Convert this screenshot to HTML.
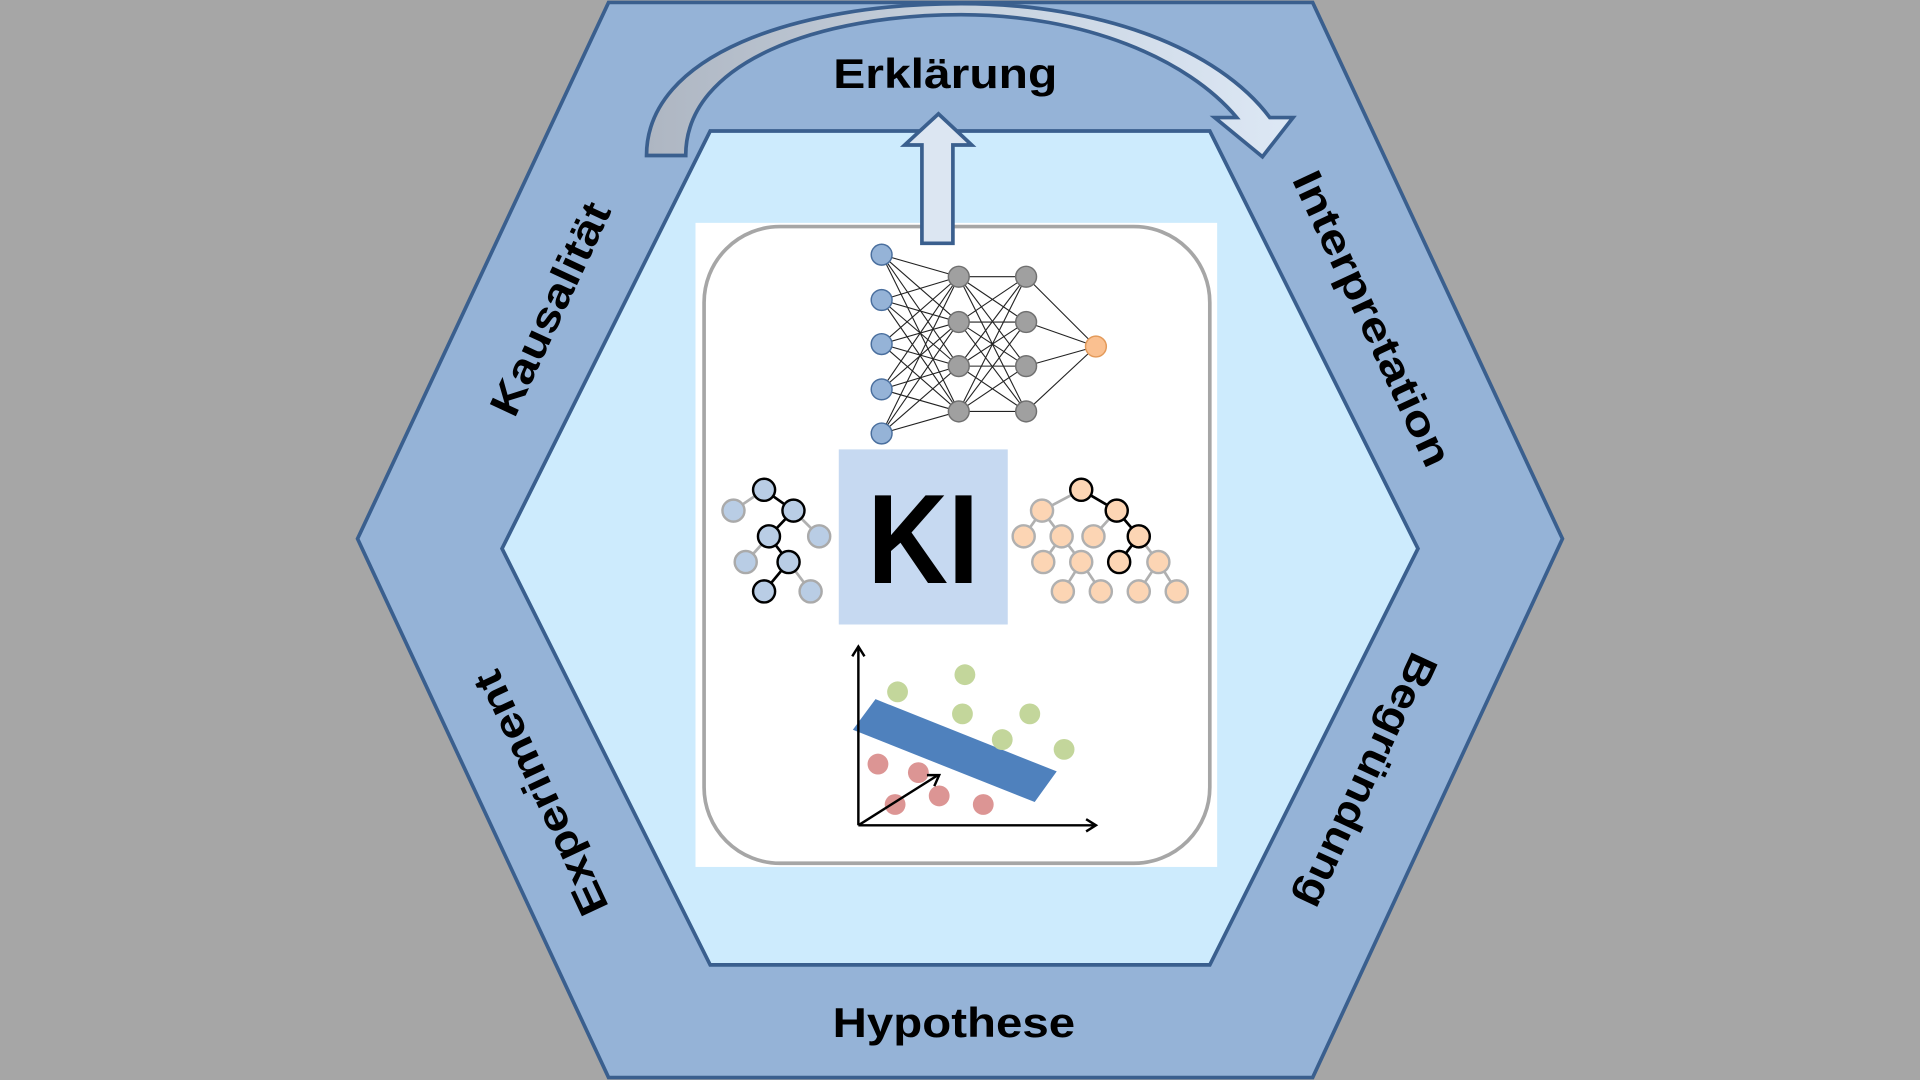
<!DOCTYPE html>
<html><head><meta charset="utf-8"><style>
html,body{margin:0;padding:0;background:#a6a6a6;}
svg{display:block;}
text{font-family:"Liberation Sans",Arial,sans-serif;font-weight:bold;fill:#000;}
</style></head><body>
<svg width="1920" height="1080" viewBox="0 0 1568 882" xmlns="http://www.w3.org/2000/svg">
<defs>
<linearGradient id="ag" x1="0" y1="0" x2="1" y2="0">
<stop offset="0" stop-color="#aeb6c2"/><stop offset="0.45" stop-color="#c4cfdc"/><stop offset="1" stop-color="#dde8f5"/>
</linearGradient>
</defs>
<rect width="1568" height="882" fill="#a6a6a6"/>
<polygon points="497,2 1072,2 1276,440 1072,880 497,880 292,440" fill="#95b3d7" stroke="#3a5f8e" stroke-width="3"/>
<polygon points="580,107 988,107 1158,448 988,788 580,788 410,448" fill="#cdebfd" stroke="#3a5f8e" stroke-width="3"/>
<!-- curved arrow -->
<path d="M528,127 C528,45 650,3 785,3 C900,3 995,40 1037,96 L1056,96 L1031,128 L992,96 L1010,96 C970,48 885,12 785,12 C670,12 560,50 560,127 Z" fill="url(#ag)" stroke="#3a5f8e" stroke-width="3" stroke-linejoin="miter"/>
<text x="772" y="72" font-size="34" text-anchor="middle" textLength="183" lengthAdjust="spacingAndGlyphs">Erklärung</text>
<text x="779" y="847" font-size="34" text-anchor="middle" textLength="198" lengthAdjust="spacingAndGlyphs">Hypothese</text>
<text transform="translate(449,252) rotate(-65)" x="0" y="12" font-size="34" text-anchor="middle" textLength="188" lengthAdjust="spacingAndGlyphs">Kausalität</text>
<text transform="translate(1121,260) rotate(65)" x="0" y="12" font-size="34" text-anchor="middle" textLength="262" lengthAdjust="spacingAndGlyphs">Interpretation</text>
<text transform="translate(441,648) rotate(-115)" x="0" y="12" font-size="34" text-anchor="middle" textLength="216" lengthAdjust="spacingAndGlyphs">Experiment</text>
<text transform="translate(1117,638) rotate(115)" x="0" y="12" font-size="34" text-anchor="middle" textLength="226" lengthAdjust="spacingAndGlyphs">Begründung</text>
<!-- white panel -->
<rect x="568" y="182" width="426" height="526" fill="#fff"/>
<rect x="575" y="185" width="413" height="520" rx="62" ry="62" fill="#fff" stroke="#a6a6a6" stroke-width="3"/>
<!-- up arrow -->
<polygon points="766.4,93 793.6,118.4 778.2,118.4 778.2,198.7 752.9,198.7 752.9,118.4 738.8,118.4" fill="#dce6f2" stroke="#3a5f8e" stroke-width="3"/>
<!-- neural net -->
<g stroke="#222" stroke-width="0.9">
<g id="e1">
<line x1="720" y1="208" x2="783" y2="226"/><line x1="720" y1="208" x2="783" y2="263"/><line x1="720" y1="208" x2="783" y2="299"/><line x1="720" y1="208" x2="783" y2="336"/>
<line x1="720" y1="245" x2="783" y2="226"/><line x1="720" y1="245" x2="783" y2="263"/><line x1="720" y1="245" x2="783" y2="299"/><line x1="720" y1="245" x2="783" y2="336"/>
<line x1="720" y1="281" x2="783" y2="226"/><line x1="720" y1="281" x2="783" y2="263"/><line x1="720" y1="281" x2="783" y2="299"/><line x1="720" y1="281" x2="783" y2="336"/>
<line x1="720" y1="318" x2="783" y2="226"/><line x1="720" y1="318" x2="783" y2="263"/><line x1="720" y1="318" x2="783" y2="299"/><line x1="720" y1="318" x2="783" y2="336"/>
<line x1="720" y1="354" x2="783" y2="226"/><line x1="720" y1="354" x2="783" y2="263"/><line x1="720" y1="354" x2="783" y2="299"/><line x1="720" y1="354" x2="783" y2="336"/>
</g>
<line x1="783" y1="226" x2="838" y2="226"/><line x1="783" y1="226" x2="838" y2="263"/><line x1="783" y1="226" x2="838" y2="299"/><line x1="783" y1="226" x2="838" y2="336"/>
<line x1="783" y1="263" x2="838" y2="226"/><line x1="783" y1="263" x2="838" y2="263"/><line x1="783" y1="263" x2="838" y2="299"/><line x1="783" y1="263" x2="838" y2="336"/>
<line x1="783" y1="299" x2="838" y2="226"/><line x1="783" y1="299" x2="838" y2="263"/><line x1="783" y1="299" x2="838" y2="299"/><line x1="783" y1="299" x2="838" y2="336"/>
<line x1="783" y1="336" x2="838" y2="226"/><line x1="783" y1="336" x2="838" y2="263"/><line x1="783" y1="336" x2="838" y2="299"/><line x1="783" y1="336" x2="838" y2="336"/>
<line x1="838" y1="226" x2="895" y2="283"/><line x1="838" y1="263" x2="895" y2="283"/><line x1="838" y1="299" x2="895" y2="283"/><line x1="838" y1="336" x2="895" y2="283"/>
</g>
<g fill="#95b3d7" stroke="#4a6f9e" stroke-width="1.2">
<circle cx="720" cy="208" r="8.5"/><circle cx="720" cy="245" r="8.5"/><circle cx="720" cy="281" r="8.5"/><circle cx="720" cy="318" r="8.5"/><circle cx="720" cy="354" r="8.5"/>
</g>
<g fill="#a0a0a0" stroke="#707070" stroke-width="1.2">
<circle cx="783" cy="226" r="8.5"/><circle cx="783" cy="263" r="8.5"/><circle cx="783" cy="299" r="8.5"/><circle cx="783" cy="336" r="8.5"/>
<circle cx="838" cy="226" r="8.5"/><circle cx="838" cy="263" r="8.5"/><circle cx="838" cy="299" r="8.5"/><circle cx="838" cy="336" r="8.5"/>
</g>
<circle cx="895" cy="283" r="8.5" fill="#fac090" stroke="#e39a5a" stroke-width="1.2"/>
<!-- KI -->
<rect x="685" y="367" width="138" height="143" fill="#c6d9f1"/>
<text x="754" y="476" font-size="104" text-anchor="middle" textLength="91" lengthAdjust="spacingAndGlyphs">KI</text>
<!-- left tree -->
<g stroke-width="2.2">
<line x1="624" y1="400" x2="599" y2="417" stroke="#b0b0b0"/>
<line x1="648" y1="417" x2="669" y2="438" stroke="#b0b0b0"/>
<line x1="628" y1="438" x2="609" y2="459" stroke="#b0b0b0"/>
<line x1="644" y1="459" x2="662" y2="483" stroke="#b0b0b0"/>
<line x1="624" y1="400" x2="648" y2="417" stroke="#000"/>
<line x1="648" y1="417" x2="628" y2="438" stroke="#000"/>
<line x1="628" y1="438" x2="644" y2="459" stroke="#000"/>
<line x1="644" y1="459" x2="624" y2="483" stroke="#000"/>
</g>
<g fill="#b9cde5" stroke="#aaa" stroke-width="2">
<circle cx="599" cy="417" r="9"/><circle cx="669" cy="438" r="9"/><circle cx="609" cy="459" r="9"/><circle cx="662" cy="483" r="9"/>
</g>
<g fill="#b9cde5" stroke="#000" stroke-width="2">
<circle cx="624" cy="400" r="9"/><circle cx="648" cy="417" r="9"/><circle cx="628" cy="438" r="9"/><circle cx="644" cy="459" r="9"/><circle cx="624" cy="483" r="9"/>
</g>
<!-- right tree -->
<g stroke-width="2.2" stroke="#b0b0b0">
<line x1="883" y1="400" x2="851" y2="417"/>
<line x1="851" y1="417" x2="836" y2="438"/><line x1="851" y1="417" x2="867" y2="438"/>
<line x1="912" y1="417" x2="893" y2="438"/>
<line x1="867" y1="438" x2="852" y2="459"/><line x1="867" y1="438" x2="883" y2="459"/>
<line x1="930" y1="438" x2="946" y2="459"/>
<line x1="883" y1="459" x2="868" y2="483"/><line x1="883" y1="459" x2="899" y2="483"/>
<line x1="946" y1="459" x2="930" y2="483"/><line x1="946" y1="459" x2="961" y2="483"/>
</g>
<g stroke-width="2.2" stroke="#000">
<line x1="883" y1="400" x2="912" y2="417"/><line x1="912" y1="417" x2="930" y2="438"/><line x1="930" y1="438" x2="914" y2="459"/>
</g>
<g fill="#fcd5b4" stroke="#b0b0b0" stroke-width="2">
<circle cx="851" cy="417" r="9"/><circle cx="836" cy="438" r="9"/><circle cx="867" cy="438" r="9"/><circle cx="893" cy="438" r="9"/>
<circle cx="852" cy="459" r="9"/><circle cx="883" cy="459" r="9"/><circle cx="946" cy="459" r="9"/>
<circle cx="868" cy="483" r="9"/><circle cx="899" cy="483" r="9"/><circle cx="930" cy="483" r="9"/><circle cx="961" cy="483" r="9"/>
</g>
<g fill="#fcd5b4" stroke="#000" stroke-width="2">
<circle cx="883" cy="400" r="9"/><circle cx="912" cy="417" r="9"/><circle cx="930" cy="438" r="9"/><circle cx="914" cy="459" r="9"/>
</g>
<!-- chart -->
<g fill="#c3d69b">
<circle cx="733" cy="565" r="8.5"/><circle cx="788" cy="551" r="8.5"/><circle cx="786" cy="583" r="8.5"/><circle cx="841" cy="583" r="8.5"/><circle cx="869" cy="612" r="8.5"/>
</g>
<polygon points="715,571 863,630 845,655 696.5,596" fill="#4f81bd"/>
<circle cx="818.5" cy="604" r="8.5" fill="#c3d69b"/>
<g fill="#dc9594">
<circle cx="717" cy="624" r="8.5"/><circle cx="750" cy="631" r="8.5"/><circle cx="731" cy="657" r="8.5"/><circle cx="767" cy="650" r="8.5"/><circle cx="803" cy="657" r="8.5"/>
</g>
<g stroke="#000" stroke-width="2" fill="none">
<line x1="701" y1="674" x2="701" y2="529"/>
<polyline points="696,536 701,528 706,536"/>
<line x1="701" y1="674" x2="894" y2="674"/>
<polyline points="887,669 895,674 887,679"/>
<line x1="701" y1="674" x2="766" y2="633"/>
<polyline points="757,633 767,633 763,642"/>
</g>
</svg>
</body></html>
